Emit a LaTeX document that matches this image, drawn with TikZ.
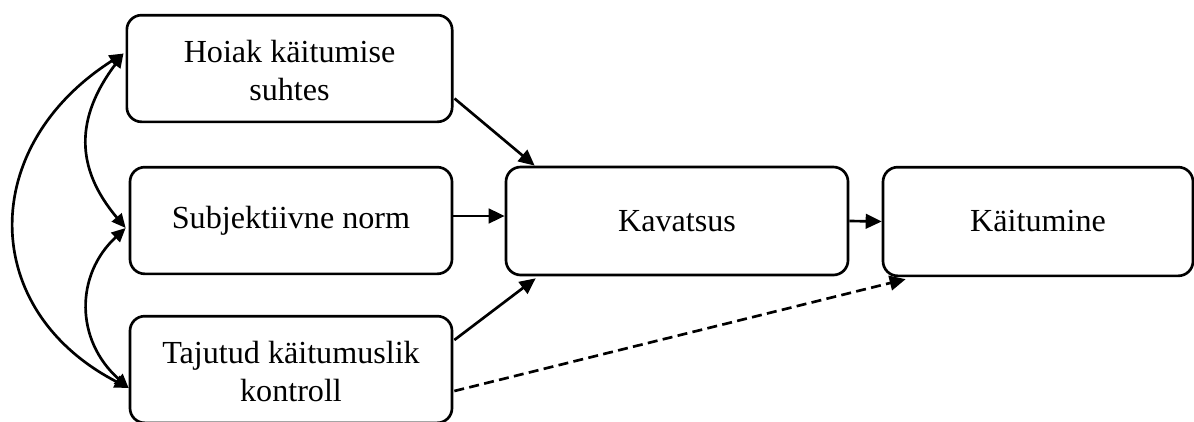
\documentclass[tikz,border=0pt]{standalone}
\usepackage{fontspec}
\setmainfont{Liberation Serif}
\usetikzlibrary{arrows.meta,calc}
\newcommand\twoline[1]{\raisebox{-4pt}[\height][\depth]{\begin{tabular}{@{}c@{}}#1\end{tabular}}}
\begin{document}
\begin{tikzpicture}[x=0.75pt,y=-0.75pt,
  box/.style={draw,line width=2pt,rounded corners=11pt,inner sep=0pt,align=center,
    font=\fontsize{24.1pt}{28.2pt}\selectfont},
  conn/.style={line width=2pt,-{Triangle[length=12pt,width=11pt]}},
  dbl/.style={line width=2pt,{Triangle[length=10.5pt,width=9.5pt]}-{Triangle[length=10.5pt,width=9.5pt]}}]
\useasboundingbox (0,0) rectangle (1194,421);
\node[box,minimum width=244pt,minimum height=80pt] (hoiak) at (289.5,68.5) {\twoline{Hoiak käitumise\\suhtes}};
\node[box,minimum width=241.5pt,minimum height=80pt] (subj) at (291,220.5) {Subjektiivne norm};
\node[box,minimum width=241.5pt,minimum height=80pt] (taj) at (291,369.5) {\twoline{Tajutud käitumuslik\\kontroll}};
\node[box,minimum width=256.5pt,minimum height=81pt] (kav) at (677,221) {Kavatsus};
\node[box,minimum width=232.5pt,minimum height=81.5pt] (kait) at (1038,221.5) {Käitumine};
\draw[conn] ($(hoiak.east)+(1,30)$) -- ($(kav.north west)+(30,0)$);
\draw[conn] ($(subj.east)+(0,-4.5)$) -- ($(kav.west)+(0,-5)$);
\draw[conn] ($(taj.east)+(1,-29.5)$) -- ($(kav.south west)+(31,2)$);
\draw[conn,dashed,dash pattern=on 7.5pt off 4pt] ($(taj.east)+(1,21.5)$) -- ($(kait.south west)+(24,2)$);
\draw[conn] (kav.east) -- (kait.west);
\draw[dbl] ($(hoiak.west)+(-2,-15)$) .. controls (-22,146) and (-22,310) .. ($(taj.west)+(0,18.5)$);
\draw[dbl] ($(hoiak.west)+(-2,-15)$) .. controls (75,118) and (75,168) .. ($(subj.west)+(-3,7.5)$);
\draw[dbl] ($(subj.west)+(-3,7.5)$) .. controls (75,275) and (75,340) .. ($(taj.west)+(0,18.5)$);
\end{tikzpicture}
\end{document}
